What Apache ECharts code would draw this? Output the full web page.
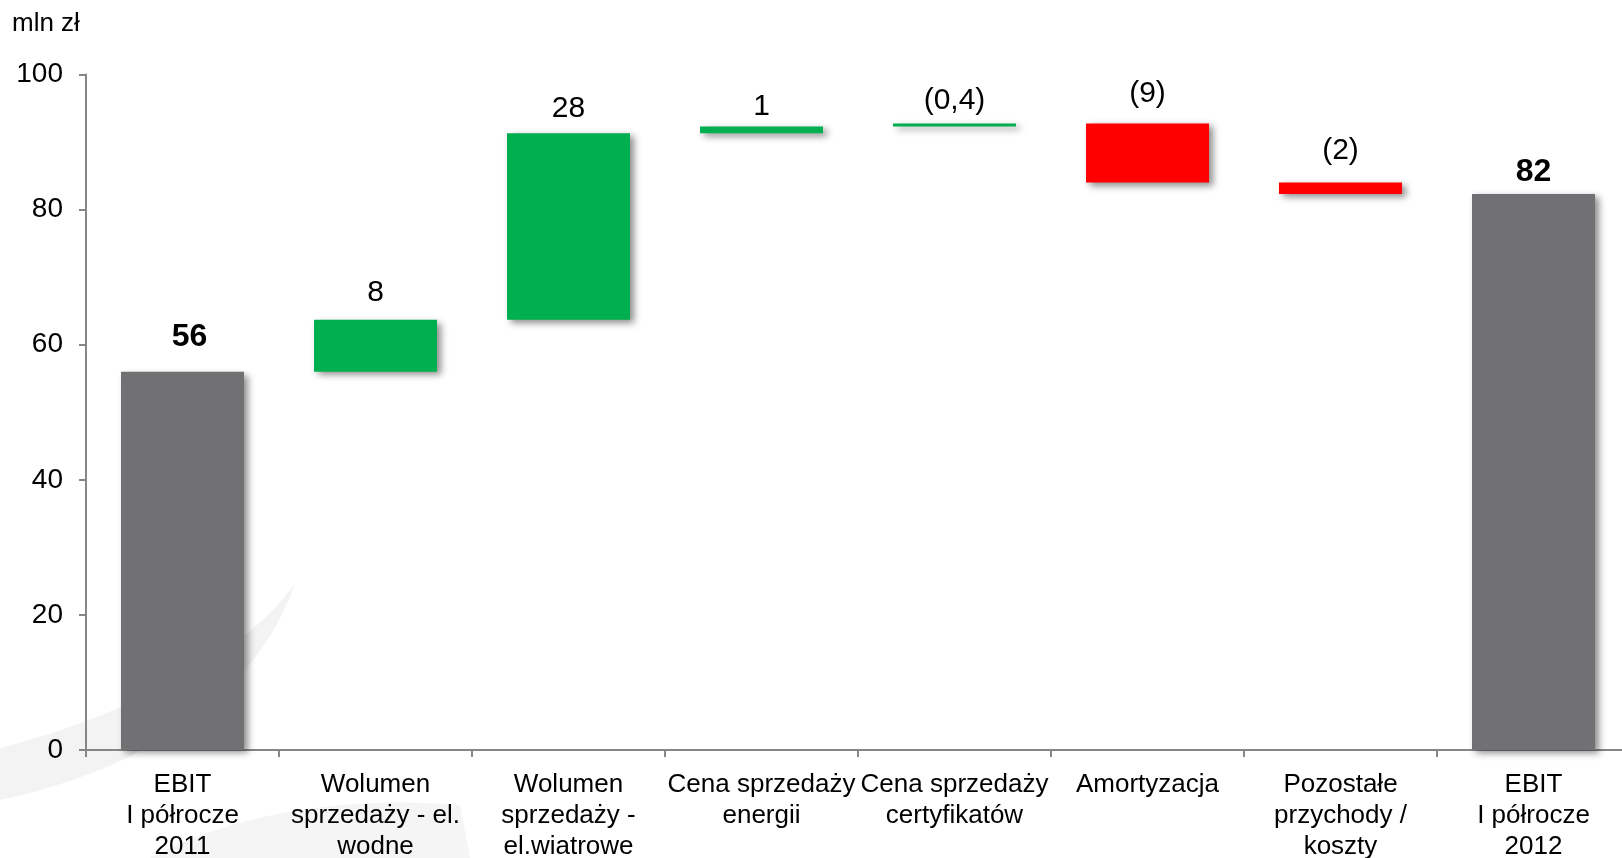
<!DOCTYPE html>
<html>
<head>
<meta charset="utf-8">
<script src="https://cdn.jsdelivr.net/npm/echarts@6/dist/echarts.min.js"></script>
<style>
  html, body { margin: 0; padding: 0; background: #fff; }
  #chart { width: 1622px; height: 858px; }
</style>
</head>
<body>
<div id="chart"></div>
<script>
// ---- data ----
const categories = [
  'EBIT\nI półrocze\n2011',
  'Wolumen\nsprzedaży - el.\nwodne',
  'Wolumen\nsprzedaży -\nel.wiatrowe',
  'Cena sprzedaży\nenergii',
  'Cena sprzedaży\ncertyfikatów',
  'Amortyzacja',
  'Pozostałe\nprzychody /\nkoszty',
  'EBIT\nI półrocze\n2012'
];
const startValue = 56.0;
const changes = [7.7, 27.6, 1.0, 0.45, -8.75, -1.7];
const endValue = 82.3;
const valueLabels = ['56', '8', '28', '1', '(0,4)', '(9)', '(2)', '82'];
const yTicks = { min: 0, max: 100, interval: 20 };

// ---- styles ----
const FONT = "'Liberation Sans', Arial, sans-serif";
const colors = { total: '#717173', up: '#00B050', down: '#FF0000' };
const labelGap = [19, 12, 10, 5, 8, 15, 17, 6];
const labelShift = [7, 0, 0, 0, 0, 0, 0, 0];

// decorative watermark outline helper (cubic bezier sampling)
function bez(p0, p1, p2, p3, n) {
  const pts = [];
  for (let i = 0; i <= n; i++) {
    const t = i / n, u = 1 - t;
    pts.push([
      u*u*u*p0[0] + 3*u*u*t*p1[0] + 3*u*t*t*p2[0] + t*t*t*p3[0],
      u*u*u*p0[1] + 3*u*u*t*p1[1] + 3*u*t*t*p2[1] + t*t*t*p3[1]
    ]);
  }
  return pts;
}
const swoosh1 = bez([295,583],[250,650],[130,715],[0,748],24)
  .concat(bez([0,800],[140,770],[255,700],[295,583],24));
const swoosh2 = bez([150,858],[230,815],[340,795],[460,805],20).concat([[470,858]]);

// ---- build waterfall ----
const base = [0];
const visible = [startValue];
const kinds = ['total'];
let running = startValue;
changes.forEach(function (c) {
  base.push(Math.min(running, running + c));
  visible.push(Math.abs(c));
  kinds.push(c >= 0 ? 'up' : 'down');
  running += c;
});
base.push(0);
visible.push(endValue);
kinds.push('total');

const visData = visible.map(function (v, i) {
  const isTotal = kinds[i] === 'total';
  return {
    value: v,
    itemStyle: { color: colors[kinds[i]] },
    label: {
      distance: labelGap[i],
      offset: [labelShift[i], 0],
      fontWeight: isTotal ? 'bold' : 'normal',
      fontSize: isTotal ? 32 : 30
    }
  };
});

const chart = echarts.init(document.getElementById('chart'), null, { renderer: 'canvas' });
chart.setOption({
  animation: false,
  backgroundColor: '#ffffff',
  textStyle: { fontFamily: FONT },
  graphic: [
    {
      type: 'polygon',
      z: -10,
      silent: true,
      shape: { points: swoosh1 },
      style: { fill: '#f3f3f3' }
    },
    {
      type: 'polygon',
      z: -10,
      silent: true,
      shape: { points: swoosh2 },
      style: { fill: '#f5f5f5' }
    },
    {
      type: 'text',
      left: 12,
      top: 11,
      style: { text: 'mln zł', fontSize: 26, fontFamily: FONT, fill: '#000' }
    }
  ],
  grid: {
    left: 86,
    right: -8,
    top: 74.5,
    bottom: 108,
    containLabel: false,
    outerBoundsMode: 'none'
  },
  xAxis: {
    type: 'category',
    data: categories,
    boundaryGap: true,
    axisLine: { show: true, lineStyle: { color: '#868686', width: 2 } },
    axisTick: { show: true, length: 7, lineStyle: { color: '#868686', width: 2 } },
    axisLabel: {
      interval: 0,
      margin: 19,
      fontSize: 26,
      lineHeight: 31,
      color: '#000',
      fontFamily: FONT,
      align: 'center'
    },
    splitLine: { show: false }
  },
  yAxis: {
    type: 'value',
    min: yTicks.min,
    max: yTicks.max,
    interval: yTicks.interval,
    axisLine: { show: true, lineStyle: { color: '#868686', width: 2 } },
    axisTick: { show: true, length: 7, lineStyle: { color: '#868686', width: 2 } },
    axisLabel: { margin: 23, fontSize: 28, color: '#000', fontFamily: FONT },
    splitLine: { show: false }
  },
  series: [
    {
      type: 'bar',
      stack: 'wf',
      data: base,
      barWidth: 123,
      itemStyle: { color: 'transparent' },
      emphasis: { disabled: true },
      silent: true
    },
    {
      type: 'bar',
      stack: 'wf',
      data: visData,
      barWidth: 123,
      itemStyle: {
        shadowColor: 'rgba(0,0,0,0.45)',
        shadowBlur: 7,
        shadowOffsetX: 4,
        shadowOffsetY: 3
      },
      label: {
        show: true,
        position: 'top',
        color: '#000',
        fontFamily: FONT,
        formatter: function (p) { return valueLabels[p.dataIndex]; }
      }
    }
  ]
});
</script>
</body>
</html>
